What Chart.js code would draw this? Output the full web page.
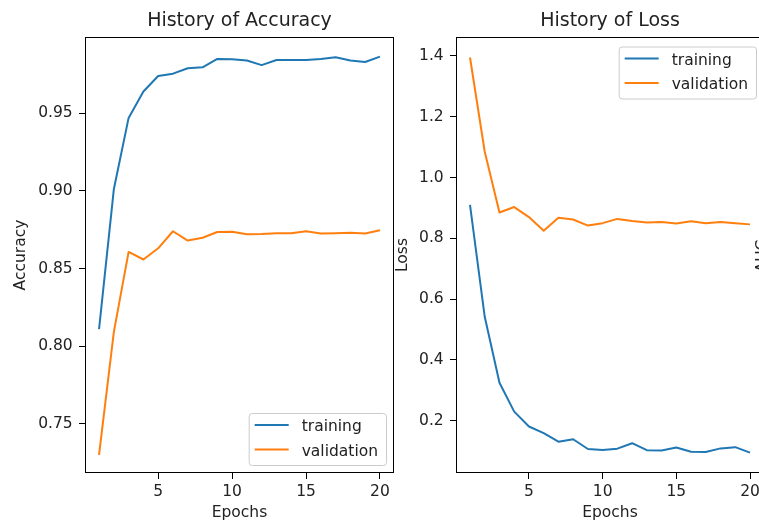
<!DOCTYPE html>
<html><head><meta charset="utf-8">
<script src="https://cdn.jsdelivr.net/npm/chart.js@4.4.0/dist/chart.umd.min.js"></script>
<style>
html,body{margin:0;padding:0;width:759px;height:526px;overflow:hidden;background:#fff;}
#c1{position:absolute;left:0;top:0;}
#c2{position:absolute;left:390px;top:0;}
#auc{position:absolute;left:742px;top:246px;width:40px;height:20px;line-height:20px;text-align:center;
 font-family:'DejaVu Sans';font-size:15.5px;color:#222;transform:rotate(-90deg);white-space:nowrap;}
</style></head><body>
<canvas id="c1" width="400" height="526"></canvas>
<canvas id="c2" width="390" height="526"></canvas>
<div id="auc">AUC</div>
<script>
// ---- data ----
const epochs = [1,2,3,4,5,6,7,8,9,10,11,12,13,14,15,16,17,18,19,20];
const accTrain = [0.811,0.901,0.947,0.964,0.974,0.9755,0.979,0.9796,0.985,0.9847,0.984,0.981,0.9843,0.9843,0.9843,0.985,0.986,0.984,0.983,0.9865];
const accVal   = [0.730,0.809,0.8607,0.8558,0.863,0.874,0.868,0.8698,0.8735,0.8737,0.872,0.8722,0.8727,0.8727,0.874,0.8725,0.8727,0.873,0.8725,0.8747];
const lossTrain = [0.91,0.542,0.325,0.23,0.181,0.159,0.131,0.139,0.107,0.104,0.108,0.126,0.103,0.102,0.112,0.098,0.097,0.109,0.113,0.095];
const lossVal   = [1.395,1.085,0.885,0.903,0.870,0.825,0.868,0.862,0.842,0.850,0.864,0.857,0.852,0.854,0.849,0.856,0.850,0.854,0.850,0.846];
const epochTicks = [5,10,15,20];
const accTicks = [0.75,0.80,0.85,0.90,0.95];
const lossTicks = [0.2,0.4,0.6,0.8,1.0,1.2,1.4];
const seriesNames = ['training','validation'];

const BLUE = '#1f77b4', ORANGE = '#ff7f0e', TXT = '#222';
Chart.defaults.font.family = "'DejaVu Sans'";
Chart.defaults.color = TXT;

const framePlugin = {
  id: 'frame',
  afterDatasetsDraw(chart) {
    const {ctx, chartArea: a} = chart;
    ctx.save();
    ctx.strokeStyle = '#000';
    ctx.lineWidth = 1;
    ctx.strokeRect(Math.round(a.left) + 0.5, Math.round(a.top) + 0.5,
                   Math.round(a.right - a.left) - 1, Math.round(a.bottom - a.top) - 1);
    ctx.restore();
  }
};

const boxLegend = {
  id: 'boxLegend',
  afterDraw(chart, args, o) {
    const {ctx, chartArea: a} = chart;
    ctx.save();
    ctx.font = o.fontSize + "px 'DejaVu Sans'";
    const ds = chart.data.datasets;
    const tw = Math.max(...ds.map(d => ctx.measureText(d.label).width));
    const padL = 6, hl = 34, gap = 13, padR = 8, rowH = 24.5, h = 52;
    const w = padL + hl + gap + tw + padR;
    const x = a.right - 8 - w;
    const y = o.where === 'lower' ? a.bottom - 8 - h : a.top + 9.5;
    ctx.beginPath();
    ctx.roundRect(x + 0.5, y + 0.5, w, h, 3);
    ctx.fillStyle = 'rgba(255,255,255,0.8)';
    ctx.fill();
    ctx.strokeStyle = '#cccccc';
    ctx.lineWidth = 1;
    ctx.stroke();
    ds.forEach((d, i) => {
      const ry = y + 12 + i * rowH;
      ctx.beginPath();
      ctx.moveTo(x + padL, ry);
      ctx.lineTo(x + padL + hl, ry);
      ctx.strokeStyle = d.borderColor;
      ctx.lineWidth = 2;
      ctx.stroke();
      ctx.fillStyle = TXT;
      ctx.textBaseline = 'alphabetic';
      ctx.textAlign = 'left';
      ctx.fillText(d.label, x + padL + hl + gap, ry + 6.3);
    });
    ctx.restore();
  }
};

function makeChart(id, cfg) {
  const padding = {left: 0, right: cfg.padRight, top: 0, bottom: 0};
  const chart = new Chart(document.getElementById(id), {
    type: 'line',
    data: {
      datasets: cfg.series.map((s, i) => ({
        label: seriesNames[i],
        data: epochs.map((e, k) => ({x: e, y: s[k]})),
        borderColor: i === 0 ? BLUE : ORANGE,
        backgroundColor: i === 0 ? BLUE : ORANGE,
        borderWidth: 2, pointRadius: 0, tension: 0, borderJoinStyle: 'round', fill: false
      }))
    },
    options: {
      responsive: false, animation: false, events: [],
      layout: {padding},
      plugins: {
        legend: {display: false}, tooltip: {enabled: false},
        title: {display: true, text: cfg.title, fullSize: false, color: TXT,
                font: {size: 19, weight: 'normal'}, padding: {top: 9.6, bottom: 4.6}},
        boxLegend: {fontSize: 15.5, where: cfg.legendWhere}
      },
      scales: {
        x: {
          type: 'linear', min: 0.05, max: 20.95,
          afterBuildTicks: s => { s.ticks = epochTicks.map(v => ({value: v})); },
          afterFit: s => { s.height = 53; },
          ticks: {font: {size: 15.5}, padding: 3.2, color: TXT, maxRotation: 0,
                  callback: v => String(v)},
          grid: {drawOnChartArea: false, drawTicks: true, tickLength: 6, color: '#000', lineWidth: 1},
          border: {display: false},
          title: {display: true, text: 'Epochs', font: {size: 15.5}, color: TXT, padding: {top: 0, bottom: 4.2}}
        },
        y: {
          type: 'linear', min: cfg.ymin, max: cfg.ymax,
          afterBuildTicks: s => { s.ticks = cfg.yTicks.map(v => ({value: v})); },
          afterFit: s => { s.width = cfg.yWidth; },
          ticks: {font: {size: 15.5}, padding: 6.3, color: TXT, callback: v => v.toFixed(cfg.dec)},
          grid: {drawOnChartArea: false, drawTicks: true, tickLength: 6, color: '#000', lineWidth: 1},
          border: {display: false},
          title: {display: true, text: cfg.ylabel, font: {size: 15.5}, color: TXT, padding: {top: cfg.yTitlePad, bottom: 0}}
        }
      }
    },
    plugins: [framePlugin, boxLegend]
  });
  // fine-tune layout so the plot area lands on the target rectangle
  for (let k = 0; k < 2; k++) {
    const a = chart.chartArea, t = cfg.target;
    padding.top += t.top - a.top;
    padding.right += a.right - t.right;
    padding.bottom += a.bottom - t.bottom;
    chart.options.layout.padding = {...padding};
    chart.update('none');
  }
  return chart;
}

makeChart('c1', {
  title: 'History of Accuracy', ylabel: 'Accuracy',
  series: [accTrain, accVal], yTicks: accTicks, dec: 2,
  ymin: 0.7183, ymax: 0.9991, yWidth: 85, yTitlePad: 11.7, padRight: 6,
  legendWhere: 'lower', target: {top: 37, right: 394, bottom: 473}
});
makeChart('c2', {
  title: 'History of Loss', ylabel: 'Loss',
  series: [lossTrain, lossVal], yTicks: lossTicks, dec: 1,
  ymin: 0.028, ymax: 1.4625, yWidth: 66, yTitlePad: 3.2, padRight: 16,
  legendWhere: 'upper', target: {top: 37, right: 374, bottom: 473}
});
</script>
</body></html>
